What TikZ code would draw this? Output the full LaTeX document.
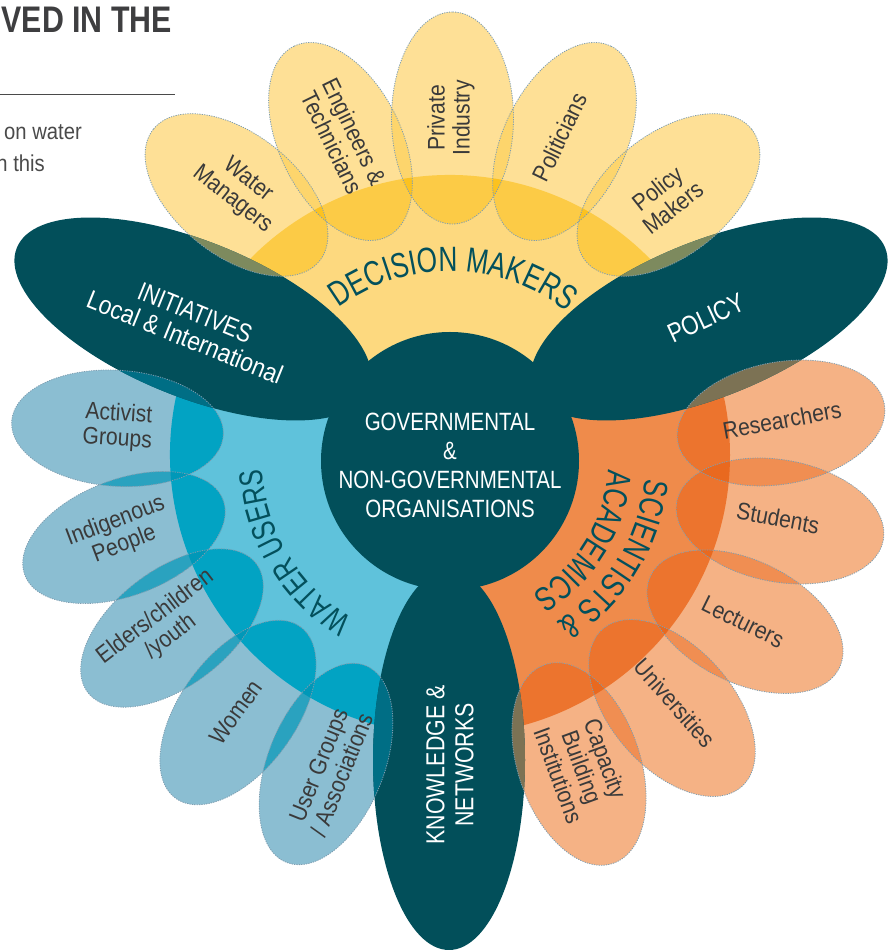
\documentclass[tikz,border=0pt]{standalone}
\usepackage{fontspec}
\setmainfont{Liberation Sans}[FakeStretch=0.88]
\newfontfamily\capsfont{Liberation Sans}[FakeStretch=0.82]
\newfontfamily\condfont{Liberation Sans}[FakeStretch=0.75]
\usetikzlibrary{decorations.text}
\definecolor{tealc}{HTML}{024F5A}
\definecolor{tealtxt}{HTML}{03505C}
\definecolor{lbltxt}{HTML}{3A3A3A}
\definecolor{petcol}{HTML}{7E9DB0}
\definecolor{titlegray}{HTML}{3E3E40}
\definecolor{bodygray}{HTML}{4A4A4A}
% yellow
\definecolor{yF}{HTML}{FDD97F}
\definecolor{yL}{HTML}{FEE096}
\definecolor{yO}{HTML}{FCCB46}
\definecolor{yPP}{HTML}{FDD56C}
\definecolor{yPPF}{HTML}{FCC21F}
\definecolor{yT}{HTML}{7D8A5E}
% blue
\definecolor{bF}{HTML}{5FC2DB}
\definecolor{bL}{HTML}{8BBED2}
\definecolor{bO}{HTML}{02A3C3}
\definecolor{bPP}{HTML}{2AA2BF}
\definecolor{bPPF}{HTML}{0098B8}
\definecolor{bT}{HTML}{006E85}
% orange
\definecolor{oF}{HTML}{EF8B4B}
\definecolor{oL}{HTML}{F5B285}
\definecolor{oO}{HTML}{EC742E}
\definecolor{oPP}{HTML}{F08E52}
\definecolor{oPPF}{HTML}{E9691F}
\definecolor{oT}{HTML}{7C7254}
\newcommand\Ell[6]{[#1,shift={(#2,#3)},rotate=#4] (0,0) ellipse [x radius=#5, y radius=#6]}
\newcommand\FanY{(450,496) -- +(30:280) arc[start angle=30,end angle=150,radius=280] -- cycle}
\newcommand\FanB{(450,496) -- +(150:280) arc[start angle=150,end angle=270,radius=280] -- cycle}
\newcommand\FanO{(450,496) -- +(-90:280) arc[start angle=-90,end angle=30,radius=280] -- cycle}
\newcommand\FillTeal[1]{%
  \fill[#1] (450,490) circle[radius=129];
  \fill\Ell{#1}{193}{632}{-22}{190}{78};
  \fill\Ell{#1}{709}{632}{22}{190}{78};
  \fill\Ell{#1}{449}{191}{90}{190}{76};}
\newcommand\curvefont{\condfont\fontsize{35}{35}\selectfont\color{tealtxt}}
\newcommand\curvefontb{\condfont\fontsize{33}{33}\selectfont\color{tealtxt}}
\newcommand\curvefontc{\condfont\fontsize{34}{34}\selectfont\color{tealtxt}}
\begin{document}
\begin{tikzpicture}[x=1pt,y=1pt,
  lbl/.style={text=lbltxt,font=\fontsize{24}{25}\selectfont,align=center,inner sep=0pt},
  wlbl/.style={text=white,align=center,inner sep=0pt},
  petedge/.style={draw=petcol,line width=0.8pt,dash pattern=on 1.2pt off 1.2pt}]
\useasboundingbox (0,0) rectangle (894,951);
% ---------- fans
\fill[yF] \FanY;
\fill[bF] \FanB;
\fill[oF] \FanO;
% ---------- yellow petals
\foreach \px/\py/\pr in {236.5/756/141.7, 340.5/809.5/116, 452.5/833/90, 564.5/809.5/64, 668.5/756/38.3}
  {\fill\Ell{yL}{\px}{\py}{\pr}{106}{61};}
\begin{scope}\clip\FanY;
\foreach \px/\py/\pr in {236.5/756/141.7, 340.5/809.5/116, 452.5/833/90, 564.5/809.5/64, 668.5/756/38.3}
  {\fill\Ell{yO}{\px}{\py}{\pr}{106}{61};}
\end{scope}
\foreach \ax/\ay/\ar/\bx/\by/\br in {236.5/756/141.7/340.5/809.5/116, 340.5/809.5/116/452.5/833/90, 452.5/833/90/564.5/809.5/64, 564.5/809.5/64/668.5/756/38.3}
  {\begin{scope}\clip\Ell{}{\ax}{\ay}{\ar}{106}{61};
   \fill\Ell{yPP}{\bx}{\by}{\br}{106}{61};
   \clip\FanY;
   \fill\Ell{yPPF}{\bx}{\by}{\br}{106}{61};
   \end{scope}}
% ---------- blue petals
\foreach \px/\py/\pr in {117.5/522.7/-3.8, 124/413.5/20.8, 172/323/37.4, 238/238.5/53.9, 326/187/68}
  {\fill\Ell{bL}{\px}{\py}{\pr}{106}{58};}
\begin{scope}\clip\FanB;
\foreach \px/\py/\pr in {117.5/522.7/-3.8, 124/413.5/20.8, 172/323/37.4, 238/238.5/53.9, 326/187/68}
  {\fill\Ell{bO}{\px}{\py}{\pr}{106}{58};}
\end{scope}
\foreach \ax/\ay/\ar/\bx/\by/\br in {117.5/522.7/-3.8/124/413.5/20.8, 124/413.5/20.8/172/323/37.4, 172/323/37.4/238/238.5/53.9, 238/238.5/53.9/326/187/68}
  {\begin{scope}\clip\Ell{}{\ax}{\ay}{\ar}{106}{58};
   \fill\Ell{bPP}{\bx}{\by}{\br}{106}{58};
   \clip\FanB;
   \fill\Ell{bPPF}{\bx}{\by}{\br}{106}{58};
   \end{scope}}
% ---------- orange petals
\foreach \px/\py/\pr in {781/528/10.4, 780/430/-10.5, 745/329.3/-26.2, 672/243/-48.5, 579/187/-71}
  {\fill\Ell{oL}{\px}{\py}{\pr}{105}{61};}
\begin{scope}\clip\FanO;
\foreach \px/\py/\pr in {781/528/10.4, 780/430/-10.5, 745/329.3/-26.2, 672/243/-48.5, 579/187/-71}
  {\fill\Ell{oO}{\px}{\py}{\pr}{105}{61};}
\end{scope}
\foreach \ax/\ay/\ar/\bx/\by/\br in {781/528/10.4/780/430/-10.5, 780/430/-10.5/745/329.3/-26.2, 745/329.3/-26.2/672/243/-48.5, 672/243/-48.5/579/187/-71}
  {\begin{scope}\clip\Ell{}{\ax}{\ay}{\ar}{105}{61};
   \fill\Ell{oPP}{\bx}{\by}{\br}{105}{61};
   \clip\FanO;
   \fill\Ell{oPPF}{\bx}{\by}{\br}{105}{61};
   \end{scope}}
% ---------- teal shapes
\FillTeal{tealc}
% ---------- petals over teal
\begin{scope}\clip\Ell{}{236.5}{756}{141.7}{106}{61};\FillTeal{yT}\end{scope}
\begin{scope}\clip\Ell{}{668.5}{756}{38.3}{106}{61};\FillTeal{yT}\end{scope}
\begin{scope}\clip\Ell{}{117.5}{522.7}{-3.8}{106}{58};\FillTeal{bT}\end{scope}
\begin{scope}\clip\Ell{}{326}{187}{68}{106}{58};\FillTeal{bT}\end{scope}
\begin{scope}\clip\Ell{}{781}{528}{10.4}{105}{61};\FillTeal{oT}\end{scope}
\begin{scope}\clip\Ell{}{579}{187}{-71}{105}{61};\FillTeal{oT}\end{scope}
% ---------- petal outlines
\foreach \px/\py/\pr in {236.5/756/141.7, 340.5/809.5/116, 452.5/833/90, 564.5/809.5/64, 668.5/756/38.3}
  {\draw\Ell{petedge}{\px}{\py}{\pr}{106}{61};}
\foreach \px/\py/\pr in {117.5/522.7/-3.8, 124/413.5/20.8, 172/323/37.4, 238/238.5/53.9, 326/187/68}
  {\draw\Ell{petedge}{\px}{\py}{\pr}{106}{58};}
\foreach \px/\py/\pr in {781/528/10.4, 780/430/-10.5, 745/329.3/-26.2, 672/243/-48.5, 579/187/-71}
  {\draw\Ell{petedge}{\px}{\py}{\pr}{105}{61};}
% ---------- curved group titles
\path[decorate,decoration={text along path,text align=center,text={|\curvefont|DECISION MAKERS}}]
  ([shift={(149:187)}]450,493) arc[start angle=149,end angle=29,radius=187];
\path[decorate,decoration={text along path,text align=center,text={|\curvefontb|WATER USERS}}]
  ([shift={(271:188)}]450,493) arc[start angle=271,end angle=151,radius=188];
\path[decorate,decoration={text along path,text align=center,text={|\curvefontc|SCIENTISTS {\&}}}]
  ([shift={(28.5:196)}]450,493) arc[start angle=28.5,end angle=-91.5,radius=196];
\path[decorate,decoration={text along path,text align=center,text={|\curvefontc|ACADEMICS}}]
  ([shift={(28.5:159)}]450,493) arc[start angle=28.5,end angle=-91.5,radius=159];
% ---------- teal labels
\node[wlbl,font=\capsfont\fontsize{25}{29}\selectfont] (gov) at (450,485.5)
  {GOVERNMENTAL\\\&\\NON-GOVERNMENTAL\\ORGANISATIONS};
\node[wlbl,font=\fontsize{26}{27}\selectfont,rotate=-22] (init) at (190,626)
  {{\capsfont INITIATIVES}\\Local \& International};
\node[wlbl,font=\capsfont\fontsize{27}{29}\selectfont,rotate=25] (policy) at (706,633) {POLICY};
\node[wlbl,font=\capsfont\fontsize{26}{29}\selectfont,rotate=90] (know) at (450,186)
  {KNOWLEDGE \&\\NETWORKS};
% ---------- petal labels
\node[lbl,rotate=-38.3] (wm) at (240,761) {Water\\Managers};
\node[lbl,rotate=-64] (eng) at (343,814) {Engineers \&\\Technicians};
\node[lbl,rotate=90] (pi) at (451,833) {Private\\Industry};
\node[lbl,rotate=64] (pol) at (560,814) {Politicians};
\node[lbl,rotate=38.3] (pm) at (665,753) {Policy\\Makers};
\node[lbl,rotate=-3.8] (act) at (118,524) {Activist\\Groups};
\node[lbl,rotate=20.8] (ind) at (120,418) {Indigenous\\People};
\node[lbl,rotate=37.4] (eld) at (163,324) {Elders/children\\/youth};
\node[lbl,rotate=53.9] (wom) at (236,239) {Women};
\node[lbl,rotate=68] (ug) at (330,181) {User Groups\\/ Associations};
\node[lbl,rotate=10.4] (res) at (782,531) {Researchers};
\node[lbl,rotate=-10.5] (stu) at (778,433) {Students};
\node[lbl,rotate=-26.2] (lec) at (743,329) {Lecturers};
\node[lbl,rotate=-48.5] (uni) at (675,248) {Universities};
\node[lbl,rotate=-70] (cap) at (582,184) {Capacity\\Building\\Institutions};
% ---------- page header fragments
\node[anchor=base east,inner sep=0pt,text=titlegray,font=\capsfont\bfseries\fontsize{37}{37}\selectfont] (title) at (172,918) {VED IN THE};
\coordinate (ruleL) at (0,856.7);
\coordinate (ruleR) at (175,856.7);
\draw[line width=1.3pt,bodygray] (ruleL) -- (ruleR);
\node[anchor=base east,inner sep=0pt,text=bodygray,font=\fontsize{23}{30}\selectfont] (body1) at (82,811) {on water};
\node[anchor=base east,inner sep=0pt,text=bodygray,font=\fontsize{23}{30}\selectfont] (body2) at (45,779) {n this};
\end{tikzpicture}
\end{document}
